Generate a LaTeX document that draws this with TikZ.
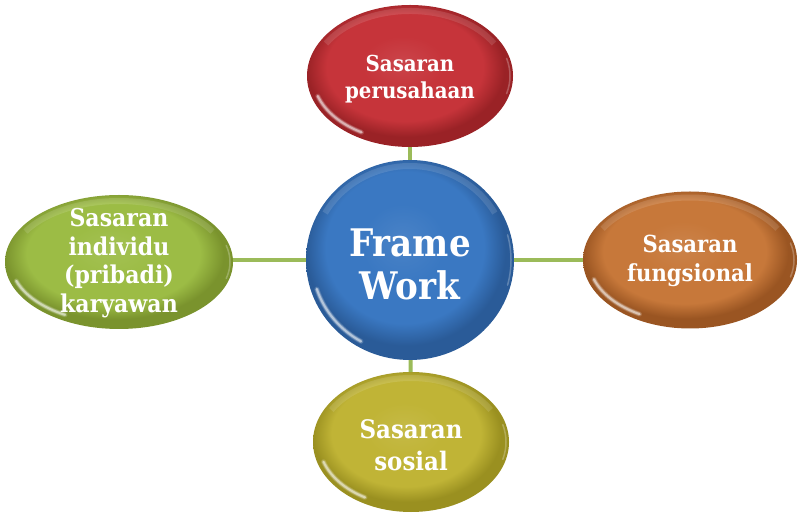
\documentclass[tikz,border=0pt]{standalone}
\usepackage{fontspec}
\setmainfont[FakeStretch=0.9]{DejaVu Serif}
\usetikzlibrary{shapes.geometric,calc}

% base and rim colours of the five bubbles
\definecolor{redBase}{HTML}{C6343A}
\definecolor{redRim}{HTML}{9A2226}
\definecolor{orgBase}{HTML}{C7783A}
\definecolor{orgRim}{HTML}{9A5522}
\definecolor{grnBase}{HTML}{9CBC45}
\definecolor{grnRim}{HTML}{7A932D}
\definecolor{ylwBase}{HTML}{C0B436}
\definecolor{ylwRim}{HTML}{9A9020}
\definecolor{bluBase}{HTML}{3A78C2}
\definecolor{bluRim}{HTML}{2A5B98}
\definecolor{linkGreen}{HTML}{9BBB59}

% glossy radial shading: flat body, softly darker rim
\newcommand\mkgloss[3]{%
  \pgfdeclareradialshading{#1}{\pgfpoint{-2bp}{5bp}}{%
    color(0bp)=(#2!92!white); color(10bp)=(#2); color(19bp)=(#2);
    color(24bp)=(#3); color(25bp)=(#3); color(50bp)=(#3)}}
\mkgloss{glossRed}{redBase}{redRim}
\mkgloss{glossOrg}{orgBase}{orgRim}
\mkgloss{glossGrn}{grnBase}{grnRim}
\mkgloss{glossYlw}{ylwBase}{ylwRim}
\mkgloss{glossBlu}{bluBase}{bluRim}

% white highlights along the inner rim of a bubble
\newcommand\rimlight[3]{%
  \begin{scope}
    \clip (#1.center) ellipse[x radius=#2, y radius=#3];
    \foreach \w/\o in {5/0.15, 3.5/0.25, 2/0.45}{
      \draw[white, opacity=\o, line width=\w pt, line cap=round]
        ($(#1.center)+(198:{#2-6} and {#3-6})$)
        arc[start angle=198, end angle=240, x radius=#2-6, y radius=#3-6];
    }
    \draw[white, opacity=0.12, line width=6pt]
      ($(#1.center)+(30:{#2-6} and {#3-6})$)
      arc[start angle=30, end angle=150, x radius=#2-6, y radius=#3-6];
    \draw[white, opacity=0.25, line width=1.5pt, line cap=round]
      ($(#1.center)+(-15:{#2-3} and {#3-3})$)
      arc[start angle=-15, end angle=15, x radius=#2-3, y radius=#3-3];
  \end{scope}}

\tikzset{
  bubble/.style={ellipse, inner sep=0pt, align=center, text=white,
    font=\bfseries\fontsize{22}{27}\selectfont},
  link/.style={draw=linkGreen, line width=4pt}
}

\begin{document}
\begin{tikzpicture}[x=1pt, y=1pt]
  \fill[white] (0,0) rectangle (799,516);
  \useasboundingbox (0,0) rectangle (799,516);

  % centre and the four goals
  \node[bubble, shading=glossBlu, minimum width=208pt, minimum height=200pt] (fw) at (410,256) {};
  \node[bubble, shading=glossRed, minimum width=206pt, minimum height=142pt]
        (top) at (410,440) {};
  \node[bubble, shading=glossGrn, minimum width=228pt, minimum height=134pt]
        (left) at (119,254) {};
  \node[bubble, shading=glossOrg, minimum width=214pt, minimum height=137pt]
        (right) at (690,256) {};
  \node[bubble, shading=glossYlw, minimum width=196pt, minimum height=140pt]
        (bottom) at (411,74) {};

  % connectors from the centre
  \draw[link] (fw) -- (top);
  \draw[link] (fw.west) -- (fw.west -| left.east);
  \draw[link] (fw) -- (right);
  \draw[link] (fw) -- (bottom);

  % gloss
  \rimlight{fw}{104}{100}
  \rimlight{top}{103}{71}
  \rimlight{left}{114}{67}
  \rimlight{right}{107}{68.5}
  \rimlight{bottom}{98}{70}

  % labels
  \node[bubble, font=\bfseries\fontsize{38}{43}\selectfont] (fwtext) at ([yshift=-4pt]fw.center) {Frame\\Work};
  \node[bubble] (toptext) at ([yshift=-3pt]top.center) {Sasaran\\perusahaan};
  \node[bubble, font=\bfseries\fontsize{24.5}{28.5}\selectfont] (lefttext) at ([yshift=-1pt]left.center) {Sasaran\\individu\\(pribadi)\\karyawan};
  \node[bubble, font=\bfseries\fontsize{23.5}{29}\selectfont] (righttext) at ([yshift=-1pt]right.center) {Sasaran\\fungsional};
  \node[bubble, font=\bfseries\fontsize{25.5}{32}\selectfont] (bottomtext) at ([yshift=-3pt]bottom.center) {Sasaran\\sosial};
\end{tikzpicture}
\end{document}
